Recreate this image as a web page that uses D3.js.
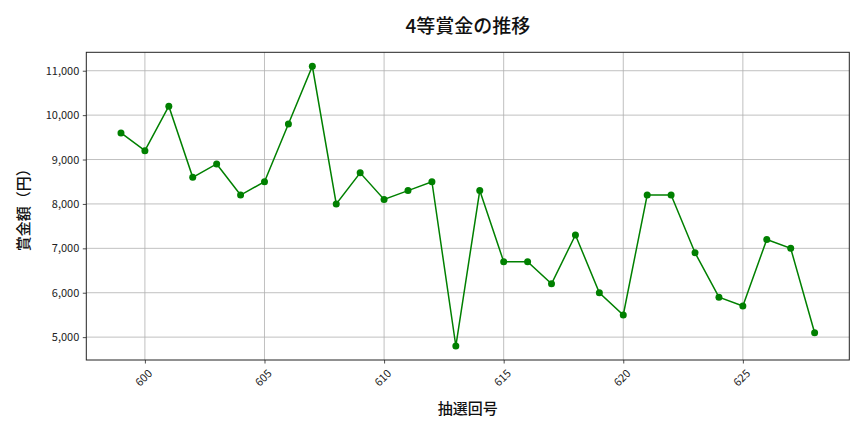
<!DOCTYPE html>
<html><head><meta charset="utf-8">
<script src="https://cdn.jsdelivr.net/npm/d3@7"></script>
<style>body{margin:0;background:#fff;} svg{display:block;}</style>
</head><body>
<svg id="c" width="864" height="432"></svg>
<script>
const draws = [599,600,601,602,603,604,605,606,607,608,609,610,611,612,613,614,615,616,617,618,619,620,621,622,623,624,625,626,627,628];
const prizes = [9600,9200,10200,8600,8900,8200,8500,9800,11100,8000,8700,8100,8300,8500,4800,8300,6700,6700,6200,7300,6000,5500,8200,8200,6900,5900,5700,7200,7000,5100];
const xTicks = [600,605,610,615,620,625];
const yTicks = [5000,6000,7000,8000,9000,10000,11000];
const title = "4等賞金の推移";
const xLabel = "抽選回号";
const yLabel = "賞金額（円）";

const font = "'Noto Sans CJK JP','Noto Sans',sans-serif";
const svg = d3.select("#c");
const L=86.3, R=849.3, T=52.3, B=360;
const xmin=d3.min(draws), xmax=d3.max(draws), xpad=(xmax-xmin)*0.05;
const ymin=d3.min(prizes), ymax=d3.max(prizes), ypad=(ymax-ymin)*0.05;
const x = d3.scaleLinear().domain([xmin-xpad, xmax+xpad]).range([L,R]);
const y = d3.scaleLinear().domain([ymin-ypad, ymax+ypad]).range([B,T]);

// grid
svg.append("g").selectAll("line").data(xTicks).join("line")
  .attr("x1",d=>x(d)).attr("x2",d=>x(d)).attr("y1",T).attr("y2",B)
  .attr("stroke","#b0b0b0").attr("stroke-width",0.8);
svg.append("g").selectAll("line").data(yTicks).join("line")
  .attr("y1",d=>y(d)).attr("y2",d=>y(d)).attr("x1",L).attr("x2",R)
  .attr("stroke","#b0b0b0").attr("stroke-width",0.8);

// axes
const fmt = d3.format(",");
const gx = svg.append("g").attr("transform",`translate(0,${B})`)
  .call(d3.axisBottom(x).tickValues(xTicks).tickSize(3.5).tickPadding(3).tickFormat(d3.format("d")));
gx.select(".domain").remove();
gx.selectAll("line").attr("stroke","#222").attr("stroke-width",0.8);
gx.selectAll("text").attr("font-family",font).attr("font-size",11).attr("fill","#222")
  .attr("text-anchor","middle").attr("dy",null)
  .attr("transform","translate(-1,18.5) rotate(-45)").attr("y",0).attr("x",0)
  .attr("dominant-baseline","middle");

const gy = svg.append("g").attr("transform",`translate(${L},0)`)
  .call(d3.axisLeft(y).tickValues(yTicks).tickSize(3.5).tickPadding(3.5).tickFormat(fmt));
gy.select(".domain").remove();
gy.selectAll("line").attr("stroke","#222").attr("stroke-width",0.8);
gy.selectAll("text").attr("font-family",font).attr("font-size",11).attr("fill","#222");

// frame
svg.append("rect").attr("x",L).attr("y",T).attr("width",R-L).attr("height",B-T)
  .attr("fill","none").attr("stroke","#222").attr("stroke-width",1);

// line
const data = draws.map((d,i)=>({d, v:prizes[i]}));
svg.append("path").datum(data)
  .attr("d", d3.line().x(p=>x(p.d)).y(p=>y(p.v)))
  .attr("fill","none").attr("stroke","green").attr("stroke-width",1.5);
svg.append("g").selectAll("circle").data(data).join("circle")
  .attr("cx",p=>x(p.d)).attr("cy",p=>y(p.v)).attr("r",3.5).attr("fill","green");

// labels
svg.append("text").attr("x",(L+R)/2).attr("y",33).attr("text-anchor","middle")
  .attr("font-family",font).attr("font-size",19).attr("font-weight",500).attr("fill","#111").text(title);
svg.append("text").attr("x",(L+R)/2).attr("y",414).attr("text-anchor","middle")
  .attr("font-family",font).attr("font-size",15).attr("font-weight",500).attr("fill","#111").text(xLabel);
svg.append("text").attr("transform",`translate(29,${(T+B)/2}) rotate(-90)`).attr("text-anchor","middle")
  .attr("font-family",font).attr("font-size",15).attr("font-weight",500).attr("fill","#111").text(yLabel);
</script>
</body></html>
